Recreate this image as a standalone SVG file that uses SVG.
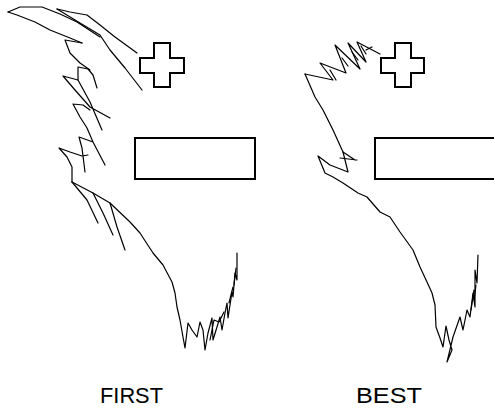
<svg xmlns="http://www.w3.org/2000/svg" width="494" height="408" viewBox="0 0 494 408">
<style>
.s{fill:none;stroke:#000;stroke-width:1.2;stroke-linejoin:round;stroke-linecap:round}
.b{fill:#fff;stroke:#000;stroke-width:2}
.t{font-family:"Liberation Sans",Arial,sans-serif;font-size:22px;fill:#000}
</style>
<rect width="494" height="408" fill="#fff"/>
<g id="first-scribble">
<path class="s" d="M8,12 L20,7 L42,7 L60,14 L77,22 L100,37"/>
<path class="s" d="M8,12 L17,15 L35,22 L50,30 L70,38 L82,43"/>
<path class="s" d="M57,9 L70,12 L87,15 L100,25 L115,37 L137,53"/>
<path class="s" d="M57,9 L80,23 L100,35 L110,50 L125,68 L142,90"/>
<path class="s" d="M65,40 L82,43 M65,40 L70,53 L80,63 L90,70"/>
<path class="s" d="M78,80 L78,67 L88,69 L93,75 L97,88"/>
<path class="s" d="M63,76 L78,80 L90,102 L102,130 M63,76 L75,90 L90,107 L110,118"/>
<path class="s" d="M73,104 L83,105 L90,110 M73,104 L80,117 L87,128 L93,142 L105,165 M79,137 L93,142 M79,137 L82,148 L85,172"/>
<path class="s" d="M59,148 L70,152 L82,156 L88,155 M59,148 L67,157 L72,167 L72,182"/>
<path class="s" d="M72,182 L93,193 L110,203 L130,222 L140,233 L153,253 L163,265 L172,282 L175,293 L177,307 L180,320 L183,337 L185,348 L188,323 L192,330 L197,337 L200,322 L203,330 L205,350 L208,333 L212,318 L213,340 L217,327 L220,317 L222,330 L225,313 L227,303 L228,318 L232,292 L233,297 L235,273 L237,280 L237,253"/>
<path class="s" d="M210,340 L214,320 L219,322 L224,312 M229,303 L233,287 M234,285 L236,268"/>
<path class="s" d="M72,182 L87,200 L98,223 M93,193 L103,213 L113,235 M110,203 L117,227 L125,250"/>
</g>
<g id="best-scribble">
<path class="s" d="M305,74 L333,80 L320,63 L346,73 L335,45 L360,69 L348,43 L366,62 L357,42 L380,54"/>
<path class="s" d="M330,70 L336,80 M342,58 L348,66 M352,52 L358,60 M361,46 L366,54 M366,50 L372,47"/>
<path class="s" d="M305,74 L315,97 L323,110 L333,130 L343,152 L348,172 L330,165 L318,156 L325,173 L333,177 L343,183 L358,193 L367,197 L380,212 L390,217 L400,232 L413,250 L420,267 L427,282 L432,293 L435,305 L436,327 L440,338 L443,347 L446,326 L449,340 L452,350 L447,362 L453,337 L460,317 L463,330 L467,310 L470,317 L473,293 L475,307 L475,270 L477,283 L478,255"/>
<path class="s" d="M343,152 L355,160 M340,158 L357,160"/>
<path class="s" d="M471,310 L474,290 M474,300 L476,285"/>
</g>
<g id="plus-first"><path class="b" d="M154,43 H170 V58 H184 V73 H170 V87 H154 V73 H140 V58 H154 Z"/></g>
<g id="minus-first"><rect class="b" x="135" y="138" width="120" height="41"/></g>
<g id="plus-best"><path class="b" d="M395,43 H411 V58 H424 V73 H411 V87 H395 V73 H381 V58 H395 Z"/></g>
<g id="minus-best"><rect class="b" x="375" y="138" width="122" height="41"/></g>
<text class="t" x="100" y="403" textLength="63" lengthAdjust="spacingAndGlyphs">FIRST</text>
<text class="t" x="356" y="403" textLength="66" lengthAdjust="spacingAndGlyphs">BEST</text>
</svg>
